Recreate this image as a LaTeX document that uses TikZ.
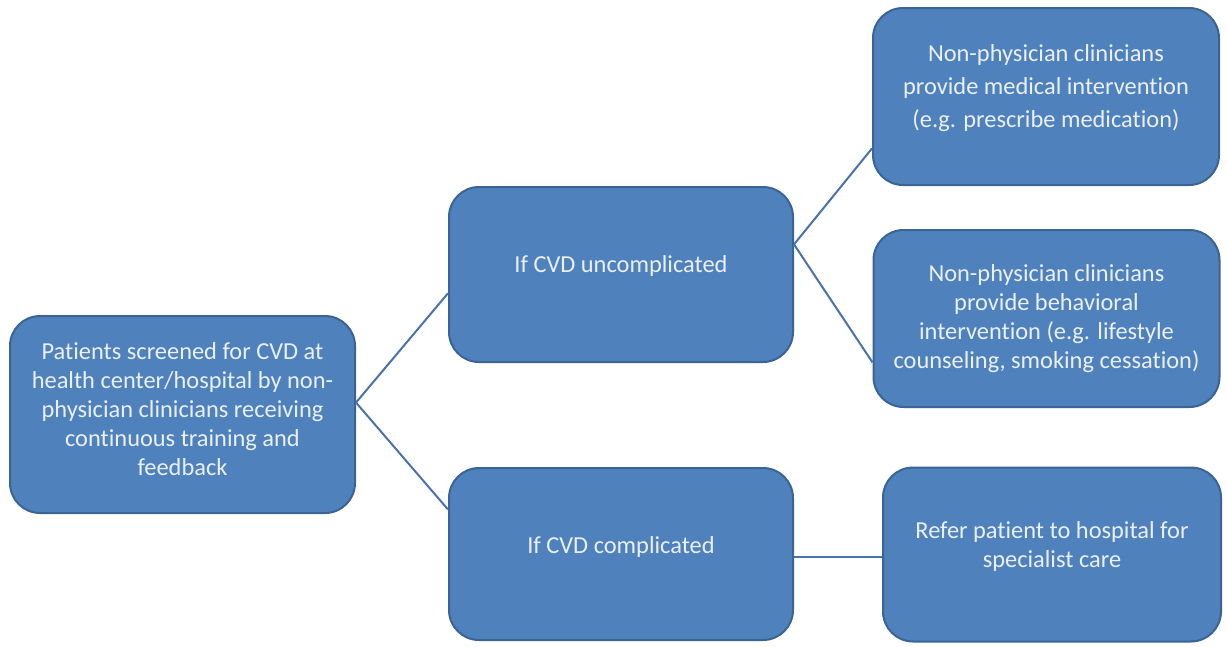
\documentclass[tikz,border=0pt]{standalone}
\usepackage{fontspec}
\setmainfont{Carlito}[RawFeature={-liga;-clig;-calt;-dlig}]
\usetikzlibrary{calc}
\definecolor{boxfill}{HTML}{4F81BD}
\definecolor{boxline}{HTML}{3A6494}
\definecolor{boxtext}{HTML}{EAF0F8}
\definecolor{linkcol}{HTML}{4A72AA}
\newcommand{\cardtext}[4]{\parbox[c][#2][c]{#1}{\centering\fontsize{24.4}{29}\selectfont #4\par\vspace{#3}}}
\begin{document}
\begin{tikzpicture}[x=1pt,y=-1pt,
  card/.style={draw=boxline, fill=boxfill, line width=2pt, rounded corners=30pt,
    inner sep=0pt, text=boxtext},
  link/.style={draw=linkcol, line width=2pt}]
\useasboundingbox (0,0) rectangle (1227,646);
\fill[white] (0,0) rectangle (1227,646);

\node[card] (l) at (182.5,414.5)
  {\cardtext{345pt}{197pt}{10pt}{Patients screened for CVD at\\ health center/hospital by non-\\ physician clinicians receiving\\ continuous training and\\ feedback}};
\node[card] (mt) at (621,274.5)
  {\cardtext{344pt}{175pt}{18pt}{If CVD uncomplicated}};
\node[card] (mb) at (621,554)
  {\cardtext{344pt}{172pt}{14pt}{If CVD complicated}};
\node[card] (rt) at (1046,96.5)
  {\cardtext{346pt}{177pt}{16pt}{\fontsize{24.4}{33}\selectfont Non-physician clinicians\\ provide medical intervention\\ (e.g. prescribe medication)}};
\node[card] (rm) at (1046.5,318.5)
  {\cardtext{346pt}{177pt}{0pt}{Non-physician clinicians\\ provide behavioral\\ intervention (e.g. lifestyle\\ counseling, smoking cessation)}};
\node[card] (rb) at (1052,554.5)
  {\cardtext{338pt}{174pt}{16pt}{Refer patient to hospital for\\ specialist care}};

\coordinate (lo) at ($(l.north east)!0.44!(l.south east)$);
\coordinate (mti) at ($(mt.north west)!0.606!(mt.south west)$);
\coordinate (mbi) at ($(mb.north west)!0.244!(mb.south west)$);
\coordinate (mto) at ($(mt.north east)!0.33!(mt.south east)$);
\coordinate (rti) at ($(rt.north west)!0.79!(rt.south west)$);
\coordinate (rmi) at ($(rm.north west)!0.745!(rm.south west)$);
\coordinate (mbo) at ($(mb.north east)!0.52!(mb.south east)$);

\draw[link] (lo) -- (mti);
\draw[link] (lo) -- (mbi);
\draw[link] (mto) -- (rti);
\draw[link] (mto) -- (rmi);
\draw[link] (mbo) -- (rb.west |- mbo);
\end{tikzpicture}
\end{document}
